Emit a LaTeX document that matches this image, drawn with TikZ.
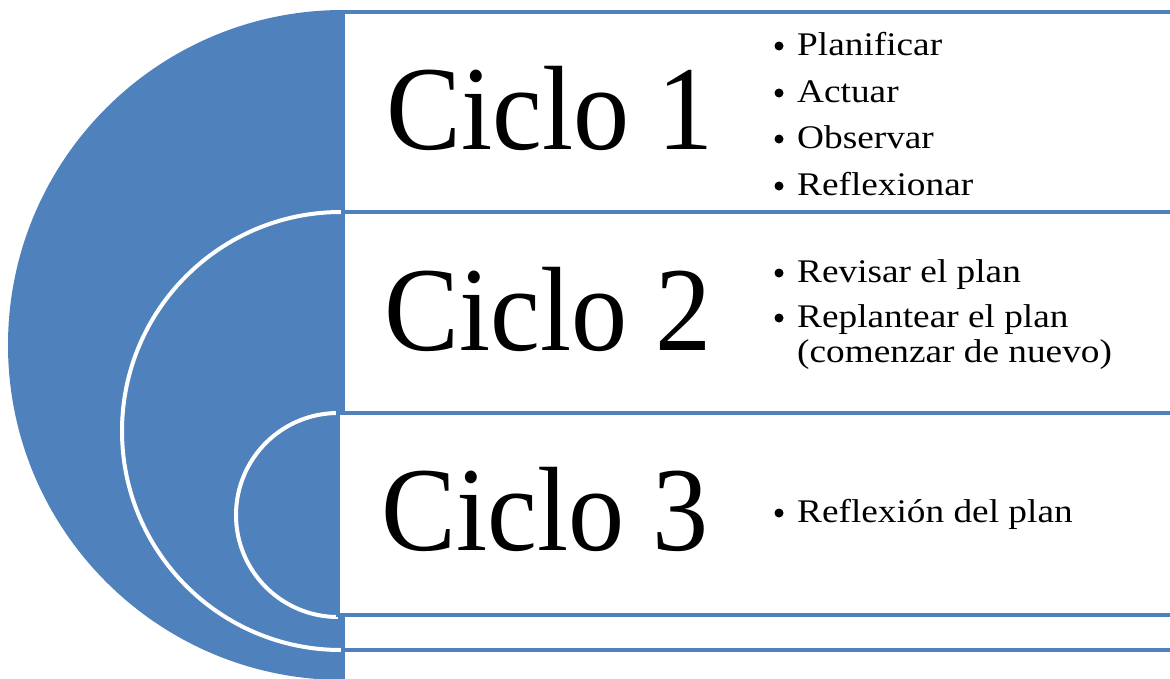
\documentclass[tikz,border=0pt]{standalone}
\usepackage{fontspec}
\setmainfont{Liberation Serif}
\definecolor{ofblue}{HTML}{4F81BD}
\begin{document}
\begin{tikzpicture}[x=1pt,y=-1pt,
  boxstyle/.style={draw=ofblue,line width=4pt,fill=white},
  arcline/.style={draw=white,line width=4pt},
  bigtext/.style={anchor=base west,inner sep=0pt,font=\fontsize{120}{140}\selectfont},
  itemtext/.style={anchor=base west,inner sep=0pt,font=\fontsize{33}{40}\selectfont},
  bulletmark/.style={circle,fill=black,inner sep=0pt,minimum size=9pt}]
\useasboundingbox (0,0) rectangle (1170,678);
% big half disc
\fill[ofblue] (343,10) arc[start angle=90,end angle=270,radius=335pt] -- cycle;
% inner white arcs
\draw[arcline] (341,212) arc[start angle=90,end angle=270,radius=219pt];
\draw[arcline] (338,413) arc[start angle=90,end angle=270,radius=102pt];
% boxes
\draw[boxstyle] (343,12) rectangle (1200,212) coordinate (b1);
\draw[boxstyle] (343,212) rectangle (1200,413) coordinate (b2);
\draw[boxstyle] (343,615) rectangle (1200,650) coordinate (b4);
\draw[boxstyle] (343,650) rectangle (1200,720) coordinate (b5);
\draw[boxstyle] (338,413) rectangle (1200,615) coordinate (b3);
% big labels
\node[bigtext] (c1) at (386,149) {\scalebox{0.935}[1]{Ciclo 1}};
\node[bigtext] (c2) at (384,350) {\scalebox{0.935}[1]{Ciclo 2}};
\node[bigtext] (c3) at (381,550) {\scalebox{0.935}[1]{Ciclo 3}};
% items box 1
\node[bulletmark] (p1) at (779,46) {};
\node[itemtext] (t1) at (797,55) {\scalebox{1.13}[1]{Planificar}};
\node[bulletmark] (p2) at (779,93) {};
\node[itemtext] (t2) at (797,102) {\scalebox{1.13}[1]{Actuar}};
\node[bulletmark] (p3) at (779,139) {};
\node[itemtext] (t3) at (797,148) {\scalebox{1.13}[1]{Observar}};
\node[bulletmark] (p4) at (779,186) {};
\node[itemtext] (t4) at (797,195) {\scalebox{1.13}[1]{Reflexionar}};
% items box 2
\node[bulletmark] (p5) at (779,273) {};
\node[itemtext] (t5) at (797,282) {\scalebox{1.13}[1]{Revisar el plan}};
\node[bulletmark] (p6) at (779,318) {};
\node[itemtext] (t6) at (797,327) {\scalebox{1.13}[1]{Replantear el plan}};
\node[itemtext] (t7) at (797,362) {\scalebox{1.13}[1]{(comenzar de nuevo)}};
% items box 3
\node[bulletmark] (p8) at (779,513) {};
\node[itemtext] (t8) at (797,522) {\scalebox{1.13}[1]{Reflexión del plan}};
\end{tikzpicture}
\end{document}
